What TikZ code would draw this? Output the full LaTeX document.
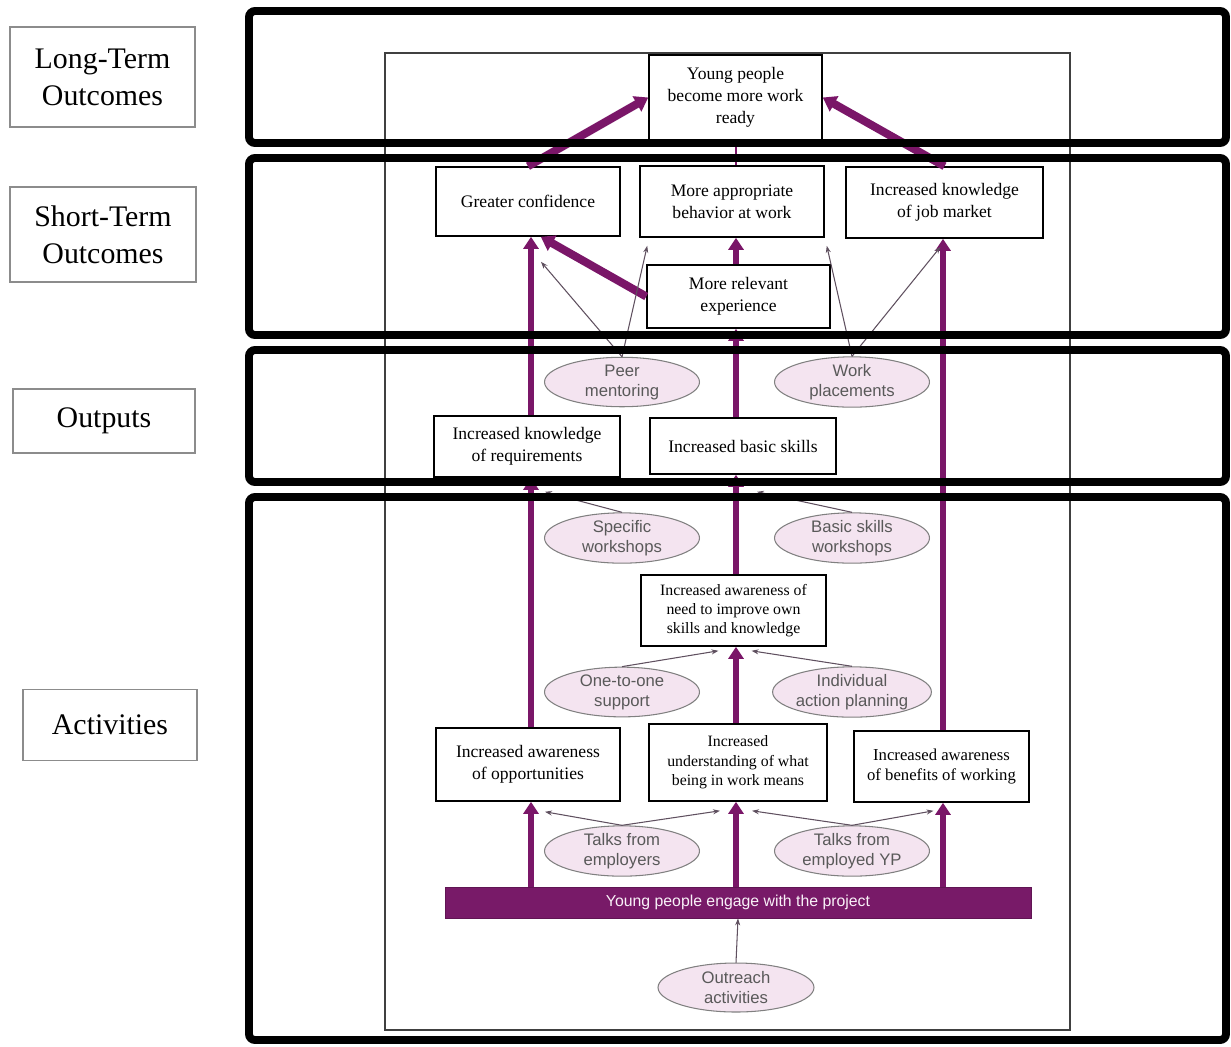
\documentclass[tikz,border=0pt]{standalone}
\usepackage{fontspec}
\setmainfont{Liberation Serif}
\setsansfont{Liberation Sans}
\usepackage{tikz}
\usetikzlibrary{shapes.geometric,arrows.meta}
\definecolor{plum}{RGB}{122,22,104}
\definecolor{barplum}{RGB}{120,26,104}
\definecolor{pinkfill}{RGB}{244,228,240}
\definecolor{thinarrow}{RGB}{95,80,95}
\def\pxu{0.02cm}

\begin{document}
\begin{tikzpicture}[x=\pxu, y=-\pxu]
	\tikzstyle{stage}=[draw=black, line width=4.5pt, rounded corners=0.12cm]
	\tikzstyle{level}=[draw=black!45, line width=0.6pt, font=\fontsize{17}{21}\selectfont, align=center, inner sep=0pt]
	\tikzstyle{outcome}=[draw=black, line width=0.9pt, fill=white, font=\fontsize{10}{12.5}\selectfont, align=center, inner sep=0pt]
	\tikzstyle{small outcome}=[outcome, font=\fontsize{9}{11}\selectfont]
	\tikzstyle{activity}=[ellipse, draw=black!50, line width=0.6pt, fill=pinkfill, text=black!65, font=\sffamily\fontsize{9.5}{11.4}\selectfont, align=center, inner sep=0pt, minimum width=3.1cm, minimum height=0.95cm]
	\tikzstyle{main link}=[draw=plum, line width=3.4pt, -{Triangle[length=0.24cm,width=0.3cm]}]
	\tikzstyle{cross link}=[main link, line width=4.6pt, -{Triangle[length=0.26cm,width=0.34cm]}]
	\tikzstyle{side link}=[draw=thinarrow, line width=0.6pt, -{Stealth[length=0.14cm,width=0.1cm]}]
	
	\useasboundingbox (0,0) rectangle (1231,1046);
	
	% Draw the level labels
	\node[level, minimum width=3.70cm, minimum height=2.00cm] (LT) at (102.5,77) {Long-Term\\Outcomes};
	\node[level, minimum width=3.72cm, minimum height=1.90cm] (ST) at (103,234.5) {Short-Term\\Outcomes};
	\node[level, minimum width=3.64cm, minimum height=1.28cm] (OUT) at (104,421) {Outputs};
	\node[level, minimum width=3.48cm, minimum height=1.42cm] (ACT) at (110,725) {Activities};
	
	% Draw the inner frame
	\draw[black!75, line width=0.6pt] (385,53) rectangle (1070,1030);
	
	% Draw the outcome boxes
	\node[outcome, minimum width=3.46cm, minimum height=1.70cm] (young) at (735.5,97.5) {Young people\\become more work\\ready};
	\node[outcome, minimum width=3.68cm, minimum height=1.38cm] (conf) at (528,201.5) {Greater confidence};
	\node[outcome, minimum width=3.68cm, minimum height=1.42cm] (behav) at (732,201.5) {More appropriate\\behavior at work};
	\node[outcome, minimum width=3.94cm, minimum height=1.42cm] (jobmk) at (944.5,202.5) {Increased knowledge\\of job market};
	\node[outcome, minimum width=3.66cm, minimum height=1.26cm] (exper) at (738.5,296.5) {More relevant\\experience};
	\node[outcome, minimum width=3.72cm, minimum height=1.22cm] (req) at (527,446.5) {Increased knowledge\\of requirements};
	\node[outcome, minimum width=3.72cm, minimum height=1.12cm] (basic) at (743,446) {Increased basic skills};
	\node[small outcome, minimum width=3.70cm, minimum height=1.42cm] (need) at (733.5,610.5) {Increased awareness of\\need to improve own\\skills and knowledge};
	\node[outcome, minimum width=3.68cm, minimum height=1.46cm] (opport) at (528,764.5) {Increased awareness\\of opportunities};
	\node[small outcome, minimum width=3.56cm, minimum height=1.54cm] (underst) at (738,762.5) {Increased\\understanding of what\\being in work means};
	\node[outcome, font=\fontsize{9.5}{11.5}\selectfont, minimum width=3.50cm, minimum height=1.42cm] (benefit) at (941.5,766.5) {Increased awareness\\of benefits of working};
	
	% Draw the activity ellipses
	\node[activity] (peer) at (622,382) {Peer\\mentoring};
	\node[activity] (place) at (852,382) {Work\\placements};
	\node[activity] (specws) at (622,538) {Specific\\workshops};
	\node[activity] (basicws) at (852,538) {Basic skills\\workshops};
	\node[activity] (support) at (622,692) {One-to-one\\support};
	\node[activity] (planning) at (852,692) {Individual\\action planning};
	\node[activity] (employers) at (622,851) {Talks from\\employers};
	\node[activity] (employed) at (852,851) {Talks from\\employed YP};
	\node[activity, minimum width=3.12cm, minimum height=0.98cm] (outreach) at (736,987.5) {Outreach\\activities};
	
	% Draw the engagement bar
	\node[fill=barplum, draw=barplum!80!black, minimum width=11.72cm, minimum height=0.62cm, inner sep=0pt, text=pinkfill!50!white, font=\sffamily\fontsize{9}{11}\selectfont] (engage) at (738,902.5) {Young people engage with the project};
	
	% The three lanes
	\coordinate (L) at (531,0);
	\coordinate (M) at (736,0);
	\coordinate (R) at (943,0);
	
	% Connect the boxes in the left lane
	\foreach \from/\to in {engage/opport, opport/req, req/conf}
	\draw[main link] (\from.north -| L) -- (\to.south -| L);
	% Connect the boxes in the middle lane
	\foreach \from/\to in {engage/underst, underst/need, need/basic, basic/exper, exper/behav}
	\draw[main link] (\from.north -| M) -- (\to.south -| M);
	\draw[draw=plum, line width=1.5pt] (behav.north -| M) -- (young.south -| M);
	% Connect the boxes in the right lane
	\foreach \from/\to in {engage/benefit, benefit/jobmk}
	\draw[main link] (\from.north -| R) -- (\to.south -| R);
	
	% Diagonal links
	\draw[cross link] (conf.north) -- (young.west);
	\draw[cross link] (jobmk.north) -- (young.east);
	\draw[cross link] (exper.west) -- (conf.-70);
	
	% Links from the activities
	\draw[side link] (peer.north) -- ([shift={(13,25)}]conf.south);
	\draw[side link] (peer.north) -- ([shift={(8,8)}]behav.south west);
	\draw[side link] (place.north) -- ([shift={(2,8)}]behav.south east);
	\draw[side link] (place.north) -- ([shift={(-4,8)}]jobmk.south);
	\draw[side link] (specws.north) -- ([shift={(18,14)}]req.south);
	\draw[side link] (basicws.north) -- ([shift={(14,17)}]basic.south);
	\draw[side link] (support.north) -- ([shift={(-15,4)}]need.south);
	\draw[side link] (planning.north) -- ([shift={(18,4)}]need.south);
	\draw[side link] (employers.north) -- ([shift={(17,10)}]opport.south);
	\draw[side link] (employers.north) -- ([shift={(-18,9)}]underst.south);
	\draw[side link] (employed.north) -- ([shift={(14,9)}]underst.south);
	\draw[side link] (employed.north) -- ([shift={(-8,8)}]benefit.south);
	\draw[side link] (outreach.north) -- (engage.south);
	
	% Draw the stage frames
	\foreach \top/\bot in {11/143, 158/335, 350/482, 497/1040}
	\draw[stage] (249,\top) rectangle (1226,\bot);
\end{tikzpicture}
\end{document}
